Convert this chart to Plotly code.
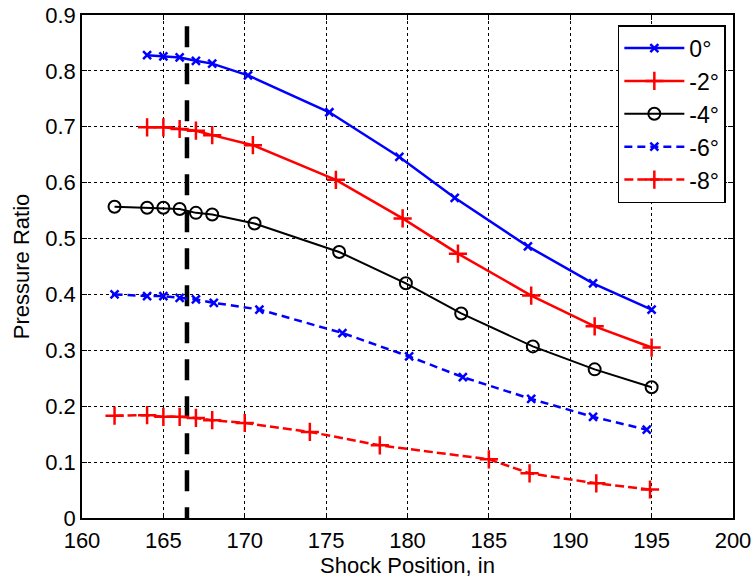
import plotly.graph_objects as go

# Data
x_0 = [164, 165, 166, 167, 168, 170.2, 175.2, 179.5, 182.9, 187.4, 191.4, 195]
y_0 = [0.828, 0.826, 0.824, 0.818, 0.813, 0.792, 0.726, 0.646, 0.573, 0.486, 0.420, 0.373]

x_m2 = [164, 165, 166, 167, 168, 170.5, 175.6, 179.7, 183.1, 187.6, 191.5, 195]
y_m2 = [0.699, 0.699, 0.696, 0.693, 0.685, 0.667, 0.605, 0.536, 0.473, 0.398, 0.343, 0.305]

x_m4 = [162, 164, 165, 166, 167, 168, 170.6, 175.8, 179.9, 183.3, 187.7, 191.5, 195]
y_m4 = [0.557, 0.555, 0.555, 0.553, 0.546, 0.543, 0.527, 0.476, 0.420, 0.366, 0.307, 0.266, 0.234]

x_m6 = [162, 164, 165, 166, 167, 168.1, 170.9, 176.0, 180.1, 183.4, 187.6, 191.4, 194.7]
y_m6 = [0.400, 0.397, 0.397, 0.394, 0.391, 0.385, 0.373, 0.331, 0.289, 0.252, 0.213, 0.181, 0.158]

x_m8 = [162, 164, 165, 166, 167, 168, 170, 174, 178.3, 185, 187.5, 191.6, 194.9]
y_m8 = [0.183, 0.184, 0.181, 0.181, 0.179, 0.175, 0.170, 0.154, 0.130, 0.105, 0.080, 0.062, 0.051]

shock_x = [166.45, 166.45]
shock_y = [0.88, 0.0]

x_ticks = [160, 165, 170, 175, 180, 185, 190, 195, 200]
y_ticks = [0, 0.1, 0.2, 0.3, 0.4, 0.5, 0.6, 0.7, 0.8, 0.9]
y_tick_text = ["0", "0.1", "0.2", "0.3", "0.4", "0.5", "0.6", "0.7", "0.8", "0.9"]

FONT = "Liberation Sans, Arial, sans-serif"

fig = go.Figure()

fig.add_trace(go.Scatter(
    x=shock_x, y=shock_y, mode="lines", showlegend=False,
    line=dict(color="black", width=4.5, dash="21px,16px"), hoverinfo="skip"))

fig.add_trace(go.Scatter(
    x=x_0, y=y_0, name="0°", mode="lines+markers",
    line=dict(color="#0000FF", width=2.5),
    marker=dict(symbol="x-thin-open", size=8, line=dict(color="#0000FF", width=2.5))))

fig.add_trace(go.Scatter(
    x=x_m2, y=y_m2, name="-2°", mode="lines+markers",
    line=dict(color="#FF0000", width=2.5),
    marker=dict(symbol="cross-thin-open", size=13, line=dict(color="#FF0000", width=2.5))))

fig.add_trace(go.Scatter(
    x=x_m4, y=y_m4, name="-4°", mode="lines+markers",
    line=dict(color="black", width=2),
    marker=dict(symbol="circle-open", size=12, color="black", line=dict(color="black", width=2))))

fig.add_trace(go.Scatter(
    x=x_m6, y=y_m6, name="-6°", mode="lines+markers",
    line=dict(color="#0000FF", width=2.5, dash="8px,5px"),
    marker=dict(symbol="x-thin-open", size=8, line=dict(color="#0000FF", width=2.5))))

fig.add_trace(go.Scatter(
    x=x_m8, y=y_m8, name="-8°", mode="lines+markers",
    line=dict(color="#FF0000", width=2.5, dash="9px,4px"),
    marker=dict(symbol="cross-thin-open", size=13, line=dict(color="#FF0000", width=2.5))))

axis_common = dict(
    showline=True, linecolor="black", linewidth=1.5, mirror="ticks",
    ticks="inside", ticklen=5, tickcolor="black", tickwidth=1,
    showgrid=True, gridcolor="black", gridwidth=1, griddash="dot",
    zeroline=False, automargin=False,
    tickfont=dict(family=FONT, size=22, color="black"),
)

fig.update_layout(
    width=754, height=579,
    margin=dict(l=82, r=21, t=15, b=61),
    paper_bgcolor="white", plot_bgcolor="white",
    font=dict(family=FONT, size=22, color="black"),
    xaxis=dict(range=[160, 200], tickvals=x_ticks, ticklabelstandoff=2,
               title=dict(text="Shock Position, in", font=dict(family=FONT, size=22), standoff=0),
               **axis_common),
    yaxis=dict(range=[0, 0.9], tickvals=y_ticks, ticktext=y_tick_text,
               title=dict(text="Pressure Ratio", font=dict(family=FONT, size=22), standoff=10),
               **axis_common),
    legend=dict(x=0.989, y=0.980, xanchor="right", yanchor="top",
                bordercolor="black", borderwidth=1.5, bgcolor="white",
                font=dict(family=FONT, size=23), itemwidth=60,
                tracegroupgap=0),
    showlegend=True,
)

# Remove the default page margin so the figure fills the window exactly.
fig.write_html(
    "out.html",
    config={"displayModeBar": False},
    post_script="document.body.style.margin='0';document.body.style.overflow='hidden';",
)
